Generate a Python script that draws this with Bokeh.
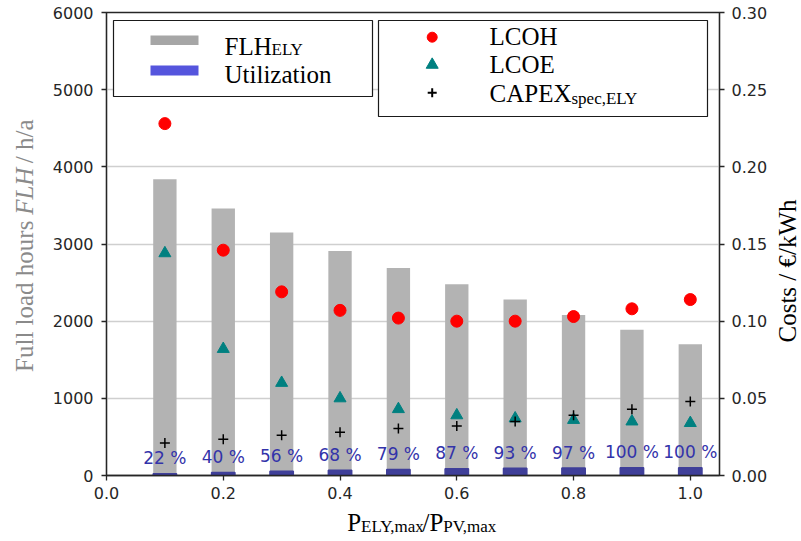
import math
from bokeh.plotting import figure
from bokeh.layouts import row, column
from bokeh.models import (Range1d, LinearAxis, FixedTicker, NumeralTickFormatter,
                          Label, ColumnDataSource)
from bokeh.core.properties import value
from bokeh.embed import file_html
from bokeh.resources import INLINE

# ---------------- data ----------------
ratio = [0.1, 0.2, 0.3, 0.4, 0.5, 0.6, 0.7, 0.8, 0.9, 1.0]
flh = [3840, 3460, 3150, 2910, 2690, 2480, 2280, 2080, 1890, 1700]
utilization = [22, 40, 56, 68, 79, 87, 93, 97, 100, 100]
lcoh = [0.228, 0.146, 0.119, 0.107, 0.102, 0.100, 0.100, 0.103, 0.108, 0.114]
lcoe = [0.144, 0.082, 0.060, 0.050, 0.043, 0.039, 0.037, 0.036, 0.035, 0.034]
capex = [0.021, 0.0235, 0.026, 0.028, 0.0305, 0.032, 0.035, 0.039, 0.043, 0.048]
util_labels = [f"{u} %" for u in utilization]
x_ticks = [0.0, 0.2, 0.4, 0.6, 0.8, 1.0]
y_ticks = [0, 1000, 2000, 3000, 4000, 5000, 6000]
cost_ticks = [0.0, 0.05, 0.10, 0.15, 0.20, 0.25, 0.30]

# ---------------- layout (page pixels) ----------------
TOTAL_W, TOTAL_H = 800, 540
LEFT_W = 40                 # strip holding the left axis title
MAIN_H = 508                # main figure height; strip below holds x title
FL, FR, FT, FB = 106, 719, 12, 475     # frame edges in page pixels
XMAX, YMAX = 1.05, 6000

def X(px):
    return (px - FL) / (FR - FL) * XMAX

def Y(py):
    return (FB - py) / (FB - FT) * YMAX

MAIN_W = TOTAL_W - LEFT_W
p = figure(width=MAIN_W, height=MAIN_H, output_backend="svg", toolbar_location=None,
           x_range=Range1d(0, XMAX), y_range=Range1d(0, YMAX),
           min_border_left=FL - LEFT_W, min_border_right=TOTAL_W - FR,
           min_border_top=FT, min_border_bottom=MAIN_H - FB)
p.extra_y_ranges = {"cost": Range1d(0, 0.30)}
p.background_fill_color = "white"
p.border_fill_color = "white"
p.outline_line_color = "#262626"
p.outline_line_width = 1.3

AX_COL = "#262626"
def style_axis(ax, standoff):
    ax.axis_line_color = AX_COL
    ax.axis_line_width = 1.3
    ax.major_tick_line_color = AX_COL
    ax.major_tick_line_width = 1.3
    ax.major_tick_out = 5
    ax.major_tick_in = 0
    ax.minor_tick_line_color = None
    ax.major_label_text_font = "DejaVu Sans"
    ax.major_label_text_font_size = "16px"
    ax.major_label_text_color = AX_COL
    ax.major_label_standoff = standoff

xa = p.xaxis[0]
xa.ticker = FixedTicker(ticks=x_ticks)
xa.formatter = NumeralTickFormatter(format="0.0")
style_axis(xa, 6)
ya = p.yaxis[0]
ya.ticker = FixedTicker(ticks=y_ticks)
style_axis(ya, 8)
ra = LinearAxis(y_range_name="cost", ticker=FixedTicker(ticks=cost_ticks),
                formatter=NumeralTickFormatter(format="0.00"))
style_axis(ra, 7)
p.add_layout(ra, "right")

p.xgrid.grid_line_color = None
p.ygrid.ticker = FixedTicker(ticks=y_ticks)
p.ygrid.grid_line_color = "#cfcfcf"
p.ygrid.grid_line_width = 1.5

src = ColumnDataSource(dict(x=ratio, flh=flh, util=utilization,
                            util_text_y=[u + 200 for u in utilization],
                            labels=util_labels, lcoh=lcoh, lcoe=lcoe, capex=capex))

# bars
p.vbar(x="x", top="flh", width=0.04, source=src, fill_color="#b3b3b3", line_color=None)
p.vbar(x="x", top="util", width=0.04, source=src, fill_color="#3f3f99",
       line_color="#3f3f99", line_width=1.5)
p.text(x="x", y="util_text_y", text="labels", source=src, text_align="center",
       text_baseline="alphabetic", text_font=value("DejaVu Sans"),
       text_font_size="17px", text_color="#3333aa")

# markers
p.scatter(x="x", y="lcoh", source=src, y_range_name="cost", marker="circle",
          size=12, fill_color="#ff0000", line_color="#ff0000")
p.scatter(x="x", y="lcoe", source=src, y_range_name="cost", marker="triangle",
          size=12, fill_color="#008080", line_color="#008080")
p.scatter(x="x", y="capex", source=src, y_range_name="cost", marker="cross",
          size=10, line_color="black", line_width=1.5)

# ---------------- legends (drawn manually) ----------------
p.quad(left=[X(113), X(378)], right=[X(372), X(707)],
       top=[Y(20), Y(20)], bottom=[Y(96), Y(116)],
       fill_color="white", line_color="#1a1a1a", line_width=1.2)
p.quad(left=[X(150)], right=[X(198)], top=[Y(35)], bottom=[Y(44.5)],
       fill_color="#a6a6a6", line_color=None)
p.quad(left=[X(150)], right=[X(198)], top=[Y(65)], bottom=[Y(75)],
       fill_color="#5555dd", line_color=None)
p.scatter(x=[X(431.7)], y=[Y(36.7)], marker="circle", size=10,
          fill_color="#ff0000", line_color="#ff0000")
p.scatter(x=[X(431.7)], y=[Y(64.3)], marker="triangle", size=12,
          fill_color="#008080", line_color="#008080")
p.scatter(x=[X(431.7)], y=[Y(92.3)], marker="cross", size=9,
          line_color="black", line_width=2)

SERIF = "Liberation Serif"
BIG, SMALL = "25px", "17px"
CAP = {BIG: 8.3, SMALL: 5.6}   # half cap height: text is centred on its anchor

def make_label(xf, yf, text, px, py, size=BIG, color="black", rotated=False,
               style="normal", align="left"):
    h = CAP[size]
    if rotated:
        ax_, ay_, ang = px - h, py, math.pi / 2
    else:
        ax_, ay_, ang = px, py - h, 0.0
    return Label(x=xf(ax_), y=yf(ay_), text=text, text_font=SERIF,
                 text_font_size=size, text_color=color, angle=ang,
                 text_align=align, text_baseline="alphabetic",
                 text_font_style=style)

def lab(*args, place=None, **kw):
    lbl = make_label(X, Y, *args, **kw)
    if place is None:
        p.add_layout(lbl)
    else:
        p.add_layout(lbl, place)

lab("FLH", 224, 54)
lab("ELY", 271, 55, SMALL)
lab("Utilization", 224, 82)
lab("LCOH", 489, 44.3)
lab("LCOE", 489, 72.7)
lab("CAPEX", 489, 101.7)
lab("spec,ELY", 571, 104, SMALL)

# right y axis title (single label in the right panel)
lab("Costs / €/kWh", 795, 342, BIG, "black", rotated=True, place="right")

# ---------------- helper strips for the other axis titles ----------------
def strip(w, h):
    f = figure(width=w, height=h, output_backend="svg", toolbar_location=None,
               x_range=Range1d(0, w), y_range=Range1d(0, h),
               x_axis_type=None, y_axis_type=None, min_border=0)
    f.outline_line_color = None
    f.background_fill_color = "white"
    f.border_fill_color = "white"
    f.grid.visible = False
    return f

left = strip(LEFT_W, MAIN_H)
LX = lambda px: px
LY = lambda py: MAIN_H - py
GREY = "#8a8a8a"
Y_FLH = 222.0                       # where the italic FLH starts (page y)
left.add_layout(make_label(LX, LY, "Full load hours", 32, Y_FLH + 6.3, BIG, GREY,
                           True, align="right"))
left.add_layout(make_label(LX, LY, "FLH", 32, Y_FLH, BIG, GREY, True, "italic"))
left.add_layout(make_label(LX, LY, "/ h/a", 32, Y_FLH - 47.2 - 9.5, BIG, GREY, True))

BOT_H = TOTAL_H - MAIN_H
bottom = strip(TOTAL_W, BOT_H)
BX = lambda px: px
BY = lambda py: TOTAL_H - py
bottom.add_layout(make_label(BX, BY, "P", 346.7, 530))
bottom.add_layout(make_label(BX, BY, "ELY,max", 360.6, 532, SMALL))
bottom.add_layout(make_label(BX, BY, "/P", 422.0, 530))
bottom.add_layout(make_label(BX, BY, "PV,max", 442.8, 532, SMALL))

layout = column(row(left, p, spacing=0), bottom, spacing=0)
open("out.html", "w").write(file_html(layout, INLINE))
